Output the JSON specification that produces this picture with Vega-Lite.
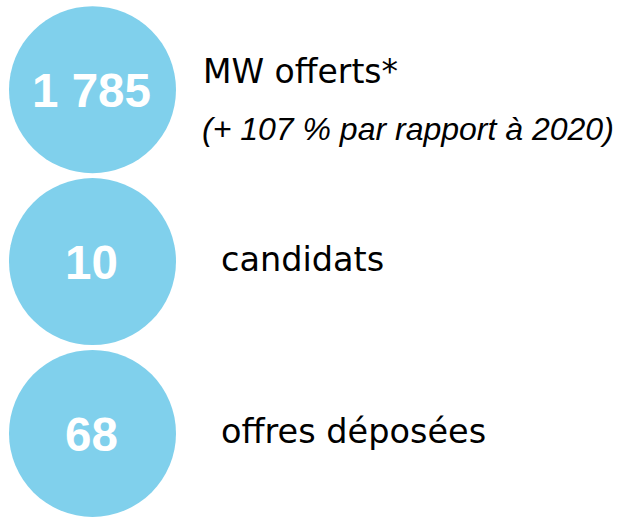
{
  "$schema": "https://vega.github.io/schema/vega-lite/v6.json",
  "width": 625,
  "height": 517,
  "autosize": {"type": "fit", "contains": "padding"},
  "padding": 0,
  "background": "white",
  "config": {"view": {"stroke": null}},
  "data": {"values": [
    {"rank": 1, "valeur": "1 785", "libelle": "MW offerts*", "note": "(+ 107 % par rapport à 2020)"},
    {"rank": 2, "valeur": "10", "libelle": "candidats", "note": ""},
    {"rank": 3, "valeur": "68", "libelle": "offres déposées", "note": ""}
  ]},
  "encoding": {
    "y": {"field": "rank", "type": "quantitative", "scale": {"domain": [0.478, 3.475], "reverse": true, "nice": false, "zero": false}, "axis": null}
  },
  "layer": [
    {
      "mark": {"type": "point", "shape": "circle", "filled": true, "size": 27889, "color": "#80D0EC", "opacity": 1, "strokeWidth": 0},
      "encoding": {"x": {"datum": 14.8, "type": "quantitative", "scale": {"domain": [0, 100], "nice": false, "zero": false}, "axis": null}}
    },
    {
      "mark": {"type": "text", "font": "Liberation Sans", "fontWeight": "bold", "fontSize": 47.5, "color": "white", "align": "center", "baseline": "alphabetic", "dy": 17.5},
      "encoding": {"x": {"datum": 14.64, "type": "quantitative"}, "text": {"field": "valeur"}}
    },
    {
      "transform": [{"filter": "datum.rank == 1"}],
      "mark": {"type": "text", "font": "DejaVu Sans", "fontSize": 33, "color": "black", "align": "left", "baseline": "alphabetic", "dy": -7},
      "encoding": {"x": {"datum": 32.48, "type": "quantitative"}, "text": {"field": "libelle"}}
    },
    {
      "transform": [{"filter": "datum.rank == 1"}],
      "mark": {"type": "text", "font": "Liberation Sans", "fontStyle": "italic", "fontSize": 32, "color": "black", "align": "left", "baseline": "alphabetic", "dy": 50},
      "encoding": {"x": {"datum": 32.32, "type": "quantitative"}, "text": {"field": "note"}}
    },
    {
      "transform": [{"filter": "datum.rank >= 2"}],
      "mark": {"type": "text", "font": "DejaVu Sans", "fontSize": 33.5, "color": "black", "align": "left", "baseline": "alphabetic", "dy": 9.5},
      "encoding": {"x": {"datum": 35.36, "type": "quantitative"}, "text": {"field": "libelle"}}
    }
  ]
}
